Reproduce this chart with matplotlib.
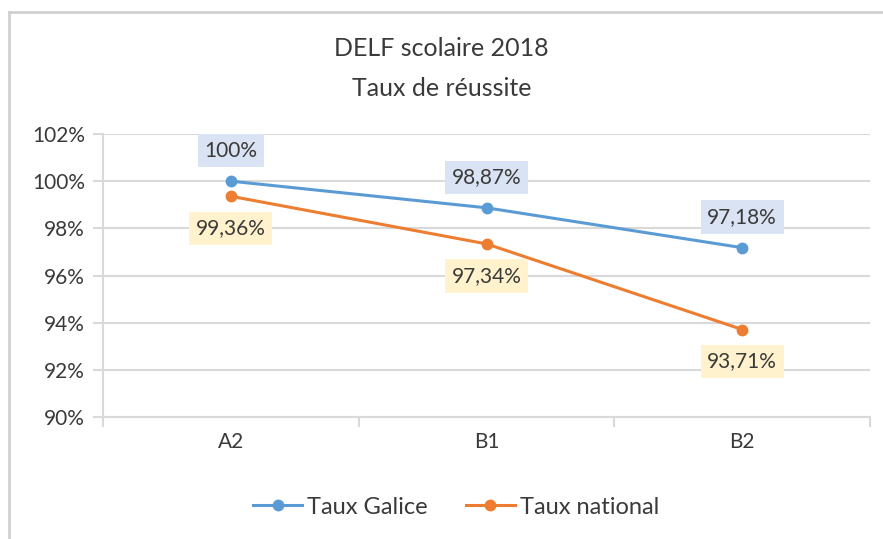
import matplotlib
matplotlib.use("Agg")
import matplotlib.pyplot as plt
from matplotlib.lines import Line2D
from matplotlib.ticker import FuncFormatter, FixedLocator

# data
niveaux = ["A2", "B1", "B2"]
taux_galice = [100.0, 98.87, 97.18]
taux_national = [99.36, 97.34, 93.71]
labels_galice = ["100%", "98,87%", "97,18%"]
labels_national = ["99,36%", "97,34%", "93,71%"]

plt.rcParams['font.family'] = ['Lato', 'DejaVu Sans']

blue = "#5B9BD5"
orange = "#ED7D31"
txt = "#3A3A3A"
grid = "#D9D9D9"

fig = plt.figure(figsize=(8.83, 5.39), dpi=100)
ax = fig.add_axes([103 / 883, 1 - 417 / 539, 767 / 883, 283 / 539])

x = list(range(len(niveaux)))
ax.plot(x, taux_galice, color=blue, lw=2.2, marker="o", ms=7.5, zorder=3)
ax.plot(x, taux_national, color=orange, lw=2.2, marker="o", ms=7.5, zorder=3)

# data labels in coloured boxes
for i, (v, s) in enumerate(zip(taux_galice, labels_galice)):
    ax.annotate(s, (i, v), xytext=(0, 22), textcoords="offset points",
                ha="center", va="center", fontsize=15, color=txt,
                bbox=dict(boxstyle="square,pad=0.32", fc="#DAE3F3", ec="none"))
for i, (v, s) in enumerate(zip(taux_national, labels_national)):
    ax.annotate(s, (i, v), xytext=(0, -23), textcoords="offset points",
                ha="center", va="center", fontsize=15, color=txt,
                bbox=dict(boxstyle="square,pad=0.32", fc="#FFF2CC", ec="none"))

ax.set_xlim(-0.5, len(niveaux) - 0.5)
ax.set_ylim(90, 102)
ax.set_yticks([90, 92, 94, 96, 98, 100, 102])
ax.yaxis.set_major_formatter(FuncFormatter(lambda v, p: f"{v:.0f}%"))
ax.set_xticks(x)
ax.set_xticklabels(niveaux)
ax.xaxis.set_minor_locator(FixedLocator([-0.5, 0.5, 1.5, 2.5]))
ax.tick_params(axis="x", which="major", length=0, pad=11, labelsize=15, labelcolor=txt)
ax.tick_params(axis="x", which="minor", length=7, color=grid, width=1.5)
ax.tick_params(axis="y", length=7, color=grid, width=1.5, labelsize=15, labelcolor=txt, pad=6)

ax.grid(axis="y", color=grid, lw=1.5, zorder=0)
for side in ["top", "right"]:
    ax.spines[side].set_visible(False)
for side in ["left", "bottom"]:
    ax.spines[side].set_color(grid)
    ax.spines[side].set_linewidth(1.5)

fig.text(0.5, 1 - 49 / 539, "DELF scolaire 2018", ha="center", va="center",
         fontsize=18, color=txt)
fig.text(0.5, 1 - 88 / 539, "Taux de réussite", ha="center", va="center",
         fontsize=18, color=txt)

handles = [Line2D([], [], color=blue, lw=2.2, marker="o", ms=7.5),
           Line2D([], [], color=orange, lw=2.2, marker="o", ms=7.5)]
leg = fig.legend(handles, ["Taux Galice", "Taux national"], loc="center",
                 bbox_to_anchor=(456 / 883, 1 - 507 / 539), ncol=2, frameon=False,
                 fontsize=17, handlelength=2.1, columnspacing=1.6, handletextpad=0.2)
for t in leg.get_texts():
    t.set_color(txt)

# outer frame (top and left edges visible)
fig.add_artist(Line2D([9 / 883, 9 / 883], [0, 1 - 12 / 539], color="#D0D0D0", lw=2))
fig.add_artist(Line2D([9 / 883, 1], [1 - 12 / 539, 1 - 12 / 539], color="#D0D0D0", lw=2))

fig.savefig("out.png", dpi=100)
